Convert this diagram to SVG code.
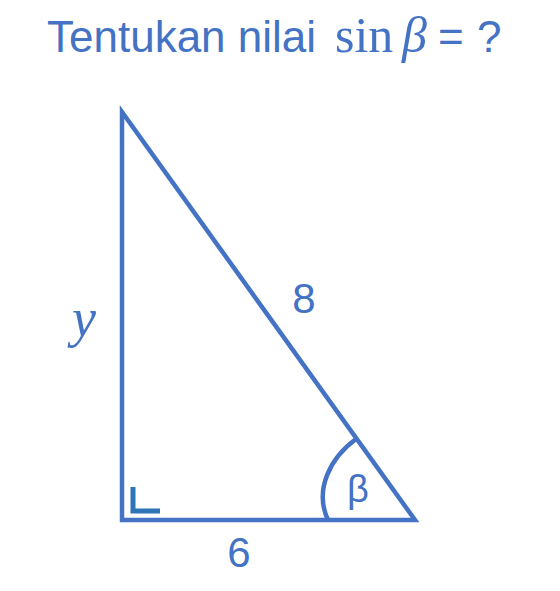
<svg xmlns="http://www.w3.org/2000/svg" width="560" height="591" viewBox="0 0 560 591">
<style>
.edge{fill:none;stroke:#4472C4;stroke-width:4.5;stroke-linejoin:miter}
.sans{font-family:"Liberation Sans",Arial,sans-serif;fill:#4472C4}
.serif{font-family:"Liberation Serif","Times New Roman",serif;fill:#4472C4}
</style>
<rect width="560" height="591" fill="#ffffff"/>
<g id="title">
<text y="52" font-size="44"><tspan class="sans" x="47">Tentukan nilai</tspan><tspan class="serif" x="335" font-size="50">sin</tspan><tspan class="serif" x="402" font-size="50" font-style="italic">β</tspan><tspan class="sans" x="438">=</tspan><tspan class="sans" x="477">?</tspan></text>
</g>
<g id="connectors">
<path class="edge" d="M122 112 L122 520 L415 520 Z"/>
</g>
<g id="angle-beta">
<path class="edge" d="M356 439 C330 458 314 490 328 520"/>
<text class="sans" x="358" y="502" font-size="38" text-anchor="middle">β</text>
</g>
<g id="right-angle">
<path d="M133 487 L133 511 L160 511" fill="none" stroke="#2E75B6" stroke-width="5"/>
</g>
<g id="label-y">
<text class="serif" x="84" y="336" font-size="54" font-style="italic" text-anchor="middle">y</text>
</g>
<g id="label-8">
<text class="sans" x="304" y="313" font-size="42" text-anchor="middle">8</text>
</g>
<g id="label-6">
<text class="sans" x="239" y="567" font-size="42" text-anchor="middle">6</text>
</g>
</svg>
